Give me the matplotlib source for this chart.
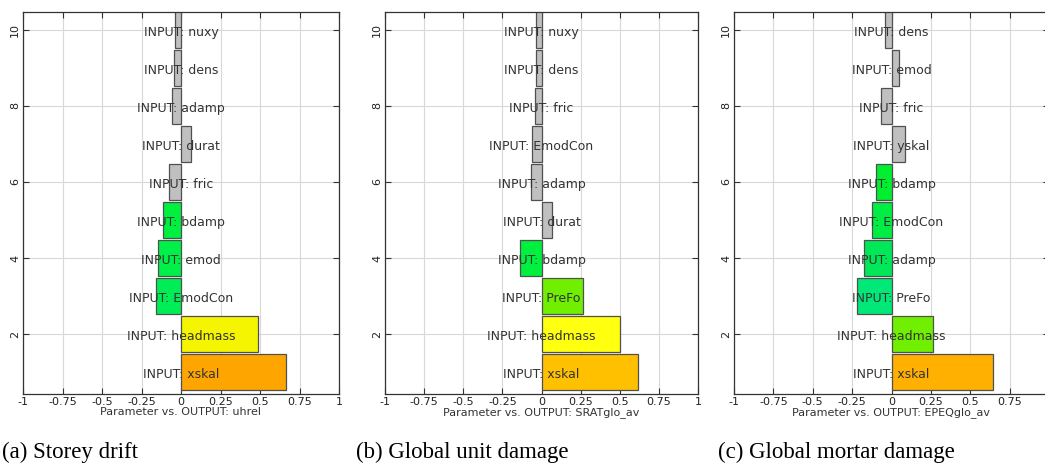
import numpy as np
import matplotlib
matplotlib.use("Agg")
import matplotlib.pyplot as plt

# parameter names (bottom -> top), correlation values and bar colours per output
params_a = ["xskal", "headmass", "EmodCon", "emod", "bdamp", "fric", "durat", "adamp", "dens", "nuxy"]
vals_a = [0.667, 0.485, -0.158, -0.146, -0.112, -0.074, 0.061, -0.059, -0.046, -0.036]
cols_a = ["#ffa500", "#f5f500", "#00ee55", "#00f04a", "#00f040",
          "#c0c0c0", "#c0c0c0", "#c0c0c0", "#c0c0c0", "#c0c0c0"]

params_b = ["xskal", "headmass", "PreFo", "bdamp", "durat", "adamp", "EmodCon", "fric", "dens", "nuxy"]
vals_b = [0.614, 0.504, 0.265, -0.140, 0.070, -0.070, -0.061, -0.044, -0.034, -0.032]
cols_b = ["#ffc000", "#ffff10", "#70f000", "#00f040",
          "#c0c0c0", "#c0c0c0", "#c0c0c0", "#c0c0c0", "#c0c0c0", "#c0c0c0"]

params_c = ["xskal", "headmass", "PreFo", "adamp", "EmodCon", "bdamp", "yskal", "fric", "emod", "dens"]
vals_c = [0.644, 0.265, -0.222, -0.174, -0.123, -0.100, 0.087, -0.066, 0.047, -0.044]
cols_c = ["#ffb000", "#70f000", "#00e878", "#00e858", "#00ee44", "#00f030",
          "#c0c0c0", "#c0c0c0", "#c0c0c0", "#c0c0c0"]

outputs = ["uhrel", "SRATglo_av", "EPEQglo_av"]
captions = ["(a) Storey drift", "(b) Global unit damage", "(c) Global mortar damage"]
xticks = [-1, -0.75, -0.5, -0.25, 0, 0.25, 0.5, 0.75, 1]
xticklabels = ["-1", "-0.75", "-0.5", "-0.25", "0", "0.25", "0.5", "0.75", "1"]

W, H = 1045, 470
fig = plt.figure(figsize=(W / 100, H / 100), dpi=100)

lefts = [23, 385, 734]
widths = [316, 313, 315]
panels = [(params_a, vals_a, cols_a), (params_b, vals_b, cols_b), (params_c, vals_c, cols_c)]
cap_x = [2, 356, 718]

for k, (names, vals, cols) in enumerate(panels):
    ax = fig.add_axes([lefts[k] / W, 1 - 394 / H, widths[k] / W, (394 - 12) / H])
    ypos = np.arange(1, len(names) + 1)
    ax.barh(ypos, vals, height=0.95, color=cols, edgecolor="#505050",
            linewidth=0.9, zorder=2)
    for y, n in zip(ypos, names):
        ax.text(0, y - 0.07, "INPUT: " + n, ha="center", va="center",
                fontsize=9, color="#333333", zorder=3)
    ax.set_xlim(-1, 1)
    ax.set_ylim(0.43, 10.46)
    ax.set_xticks(xticks)
    ax.set_xticklabels(xticklabels)
    ax.set_yticks([2, 4, 6, 8, 10])
    ax.set_yticklabels(["2", "4", "6", "8", "10"], rotation=90, va="center")
    ax.tick_params(direction="in", length=4, width=0.8, top=True, right=True,
                   labelsize=8, pad=2, color="#333333", labelcolor="#222222")
    ax.grid(True, color="#d8d8d8", linewidth=0.8, zorder=0)
    ax.set_axisbelow(True)
    for s in ax.spines.values():
        s.set_color("#333333")
        s.set_linewidth(0.9)
    ax.set_xlabel("Parameter vs. OUTPUT: " + outputs[k], fontsize=8,
                  color="#333333", labelpad=0.5)
    fig.text(cap_x[k] / W, 1 - 452 / H, captions[k], fontsize=16.5,
             family="Liberation Serif", ha="left", va="center", color="black")

fig.savefig("out.png", dpi=100, facecolor="white")
